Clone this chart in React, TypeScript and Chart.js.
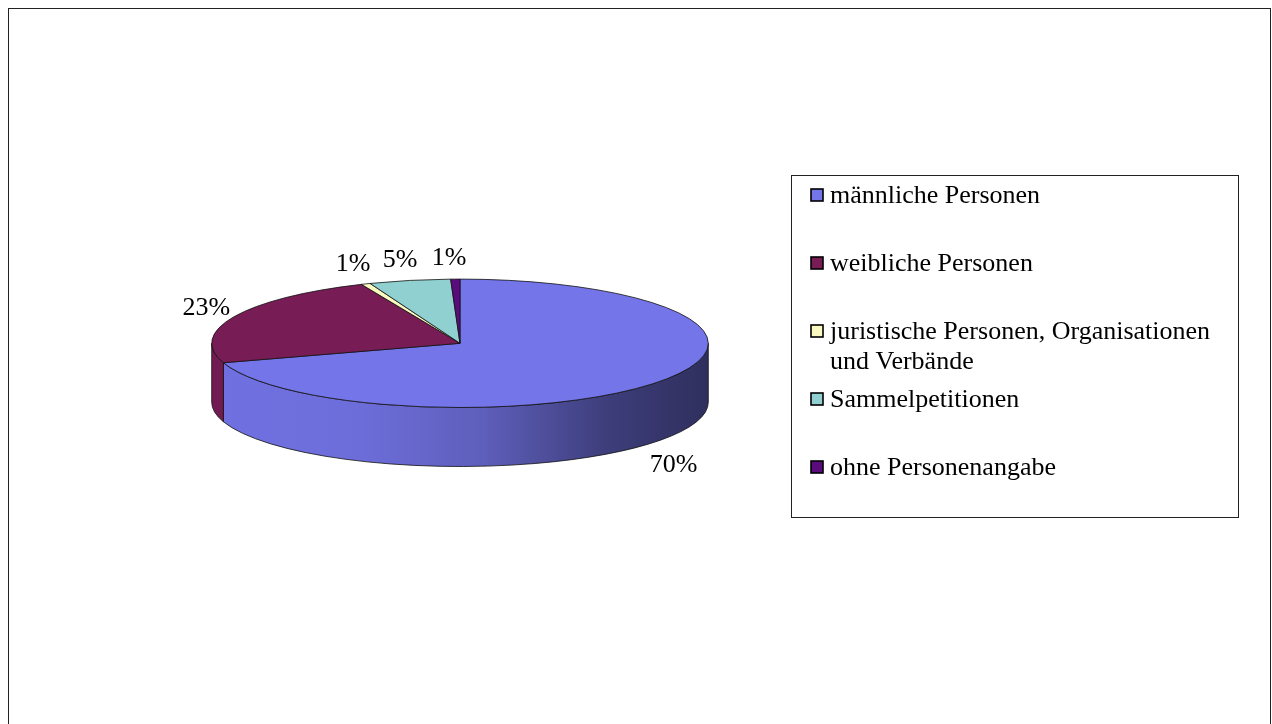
import React, { useEffect, useRef } from 'react';
import { Chart, registerables } from 'chart.js';

Chart.register(...registerables);

// ---- data ----
const categories: string[] = [
  'männliche Personen',
  'weibliche Personen',
  'juristische Personen, Organisationen\nund Verbände',
  'Sammelpetitionen',
  'ohne Personenangabe',
];
const shares: number[] = [70.1, 23.4, 0.6, 5.3, 0.6];
const colors: string[] = ['#7575EA', '#771C55', '#FAFAC0', '#90D0D0', '#5A0C7C'];

// ---- styling ----
const FONT = '26px "Liberation Serif", "Times New Roman", serif';
const CW = 1261;
const CH = 760;
const TILT = 0.2586; // ry / rx
const DEPTH = 0.2376; // wall height / rx

const rgb = (hex: string) => [
  parseInt(hex.slice(1, 3), 16),
  parseInt(hex.slice(3, 5), 16),
  parseInt(hex.slice(5, 7), 16),
];
const shade = (hex: string, f: number) => {
  const [r, g, b] = rgb(hex);
  return `rgb(${Math.round(r * f)},${Math.round(g * f)},${Math.round(b * f)})`;
};

const pie3d = {
  id: 'pie3d',
  beforeDatasetsDraw(chart: any) {
    const ctx: CanvasRenderingContext2D = chart.ctx;
    const meta = chart.getDatasetMeta(0);
    const arcs: any[] = meta.data;
    if (!arcs.length) return false;
    const cx = arcs[0].x;
    const cy = arcs[0].y;
    const rx = arcs[0].outerRadius;
    const ry = rx * TILT;
    const d = rx * DEPTH;
    ctx.save();
    ctx.lineWidth = 0.8;
    ctx.strokeStyle = '#111';
    ctx.lineJoin = 'round';

    // side walls (front half only)
    arcs.forEach((arc, i) => {
      const s = Math.max(arc.startAngle, 0);
      const e = Math.min(arc.endAngle, Math.PI);
      if (e <= s) return;
      const g = ctx.createLinearGradient(cx - rx, 0, cx + rx, 0);
      g.addColorStop(0, shade(colors[i], 0.96));
      g.addColorStop(0.3, shade(colors[i], 0.93));
      g.addColorStop(0.55, shade(colors[i], 0.8));
      g.addColorStop(0.8, shade(colors[i], 0.52));
      g.addColorStop(1, shade(colors[i], 0.4));
      ctx.beginPath();
      ctx.ellipse(cx, cy, rx, ry, 0, s, e, false);
      ctx.lineTo(cx + rx * Math.cos(e), cy + ry * Math.sin(e) + d);
      ctx.ellipse(cx, cy + d, rx, ry, 0, e, s, true);
      ctx.closePath();
      ctx.fillStyle = g;
      ctx.fill();
      ctx.stroke();
    });

    // top faces
    arcs.forEach((arc, i) => {
      ctx.beginPath();
      ctx.moveTo(cx, cy);
      ctx.ellipse(cx, cy, rx, ry, 0, arc.startAngle, arc.endAngle, false);
      ctx.closePath();
      ctx.fillStyle = colors[i];
      ctx.fill();
      ctx.stroke();
    });

    // percentage labels
    const total = shares.reduce((a, b) => a + b, 0);
    ctx.font = FONT;
    ctx.fillStyle = '#000';
    ctx.textAlign = 'center';
    ctx.textBaseline = 'middle';
    arcs.forEach((arc, i) => {
      const txt = Math.round((shares[i] / total) * 100) + '%';
      const a = (arc.startAngle + arc.endAngle) / 2;
      const ca = Math.cos(a);
      const sa = Math.sin(a);
      const front = sa > 0;
      const w = ctx.measureText(txt).width;
      const ax = cx + rx * ca;
      const ay = cy + ry * sa + (front ? d : 0);
      const x = ax + ca * (w / 2) - 6;
      const y = ay + sa * 21 + (front ? 13 : 0);
      ctx.fillText(txt, x, y);
    });

    ctx.restore();
    return false;
  },
};

const legendBox = {
  id: 'legendBox',
  afterDraw(chart: any) {
    const ctx: CanvasRenderingContext2D = chart.ctx;
    const left = 782;
    const top = 166;
    const right = 1229;
    const bottom = 508;
    const firstRow = 20;
    const slot = 68;
    const lineH = 30;
    ctx.save();
    ctx.strokeStyle = '#222';
    ctx.lineWidth = 1;
    ctx.strokeRect(left + 0.5, top + 0.5, right - left, bottom - top);
    ctx.font = FONT;
    ctx.textAlign = 'left';
    ctx.textBaseline = 'middle';
    categories.forEach((label, i) => {
      const yc = top + firstRow + slot * i;
      ctx.fillStyle = colors[i];
      ctx.fillRect(left + 20, yc - 6, 12, 12);
      ctx.strokeStyle = '#000';
      ctx.lineWidth = 1.6;
      ctx.strokeRect(left + 20, yc - 6, 12, 12);
      ctx.fillStyle = '#000';
      label.split('\n').forEach((line, j) => {
        ctx.fillText(line, left + 39, yc + 1 + j * lineH);
      });
    });
    ctx.restore();
  },
};

export default function App() {
  const ref = useRef<HTMLCanvasElement | null>(null);
  useEffect(() => {
    document.documentElement.style.overflow = 'hidden';
    document.body.style.overflow = 'hidden';
    if (!ref.current) return;
    const chart = new Chart(ref.current, {
      type: 'pie',
      data: {
        labels: categories,
        datasets: [
          {
            data: shares,
            backgroundColor: colors,
            borderWidth: 0,
            radius: 248.3,
          } as any,
        ],
      },
      options: {
        responsive: false,
        animation: false,
        layout: { padding: { left: 200, right: CW - 702, top: 80, bottom: CH - 588.6 } },
        plugins: {
          legend: { display: false },
          tooltip: { enabled: false },
        },
      },
      plugins: [pie3d, legendBox],
    });
    return () => chart.destroy();
  }, []);
  return (
    <div
      style={{
        position: 'fixed',
        left: 8,
        top: 8,
        border: '1px solid #222',
        width: CW,
        height: CH,
        overflow: 'hidden',
        background: '#fff',
      }}
    >
      <canvas ref={ref} width={CW} height={CH} style={{ display: 'block' }} />
    </div>
  );
}
